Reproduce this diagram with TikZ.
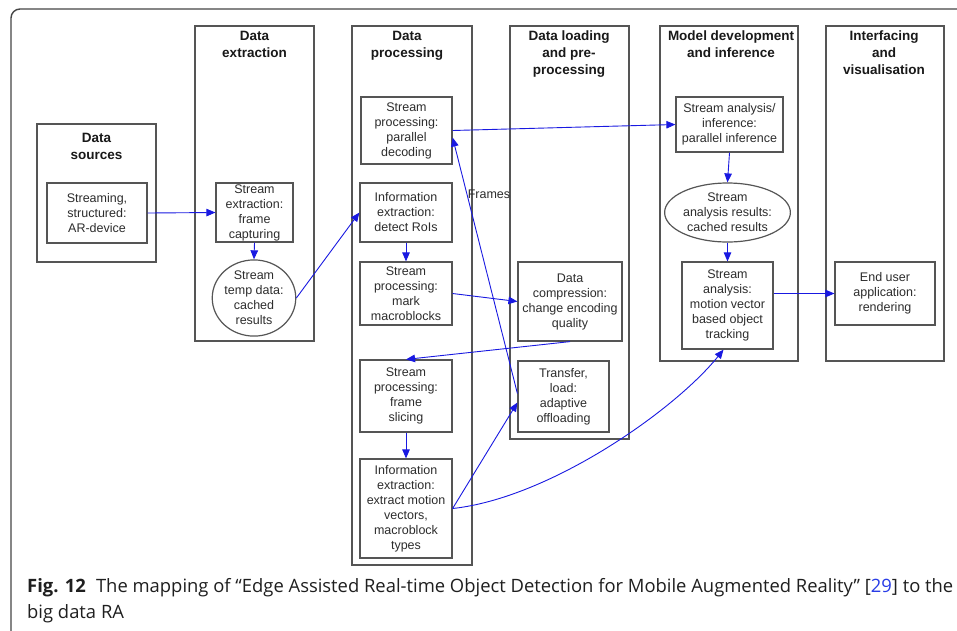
\documentclass[tikz,border=0pt]{standalone}
\usepackage{fontspec}
\setmainfont{Liberation Sans}
\newfontfamily\capfont{Open Sans}
\usetikzlibrary{arrows.meta,shapes.geometric,calc}
\definecolor{flow}{RGB}{25,25,225}
\definecolor{edgegray}{RGB}{85,85,85}
\definecolor{framegray}{RGB}{70,70,70}
\definecolor{ink}{RGB}{45,45,45}
\definecolor{citeblue}{RGB}{40,60,230}

\begin{document}
\begin{tikzpicture}[x=1pt,y=-1pt,
  lane/.style={draw=edgegray,line width=1.3pt,inner sep=0pt},
  box/.style={draw=edgegray,line width=1.2pt,inner sep=0pt,align=center,text=ink,
              font=\fontsize{12.5}{15}\selectfont},
  store/.style={box,ellipse},
  lanetitle/.style={align=center,font=\bfseries\fontsize{13.5}{16.7}\selectfont,
              text=black!90,inner sep=0pt,anchor=north},
  flowarrow/.style={draw=flow,line width=0.9pt,-{Triangle[length=9pt,width=7.5pt]}},
  caption/.style={anchor=base west,inner sep=0pt,text=black!88,
              font=\capfont\fontsize{18.4}{22}\selectfont},
]
\useasboundingbox (0,0) rectangle (957,630);
\fill[white] (0,0) rectangle (957,630);
% outer figure frame
\draw[line width=1.4pt,draw=framegray,rounded corners=9pt] (11,9) rectangle (980,660);

% ---------- lanes ----------
\node[lane,minimum width=119pt,minimum height=138pt] (srcLane)   at (96.5,193)   {};
\node[lane,minimum width=119pt,minimum height=315pt] (extLane)   at (254.5,183.5) {};
\node[lane,minimum width=120pt,minimum height=539pt] (procLane)  at (412,295.5)  {};
\node[lane,minimum width=119pt,minimum height=413pt] (loadLane)  at (569.5,232.5) {};
\node[lane,minimum width=138pt,minimum height=335pt] (modelLane) at (729,193.5)  {};
\node[lane,minimum width=118pt,minimum height=335pt] (uiLane)    at (885,193.5)  {};

\node[lanetitle] (srcTitle)   at (96.5,133) {Data\\sources};
\node[lanetitle] (extTitle)   at (254.5,31) {Data\\extraction};
\node[lanetitle] (procTitle)  at (407,31)   {Data\\processing};
\node[lanetitle] (loadTitle)  at (569,31)   {Data loading\\and pre-\\processing};
\node[lanetitle] (modelTitle) at (731,31)   {Model development\\and inference};
\node[lanetitle] (uiTitle)    at (884,31)   {Interfacing\\and\\visualisation};

% ---------- steps ----------
\node[box,minimum width=100pt,minimum height=60pt] (src) at (97,213)
  {Streaming,\\structured:\\AR-device};
\node[box,minimum width=77pt,minimum height=59pt] (extr) at (254.5,212.5)
  {Stream\\extraction:\\frame\\capturing};
\node[store,minimum width=81pt,minimum height=70pt] (tmp) at (254,298)
  {Stream\\temp data:\\cached\\results};

\node[box,minimum width=91pt,minimum height=67pt] (decode) at (406.5,130.5)
  {Stream\\processing:\\parallel\\decoding};
\node[box,minimum width=92pt,minimum height=59pt] (rois) at (406,212.5)
  {Information\\extraction:\\detect RoIs};
\node[box,minimum width=92pt,minimum height=63pt] (mark) at (406,293.5)
  {Stream\\processing:\\mark\\macroblocks};
\node[box,minimum width=92pt,minimum height=72pt] (slice) at (406,396)
  {Stream\\processing:\\frame\\slicing};
\node[box,minimum width=92pt,minimum height=99pt] (motion) at (406,508.5)
  {Information\\extraction:\\extract motion\\vectors,\\macroblock\\types};

\node[box,minimum width=104pt,minimum height=79pt] (compress) at (570,301.5)
  {Data\\compression:\\change encoding\\quality};
\node[box,minimum width=91pt,minimum height=71pt] (offload) at (563.5,396.5)
  {Transfer,\\load:\\adaptive\\offloading};

\node[box,minimum width=107pt,minimum height=55pt] (infer) at (729.5,124.5)
  {Stream analysis/\\inference:\\parallel inference};
\node[store,minimum width=119pt,minimum height=59pt] (cache) at (727.5,212.5)
  {Stream\\analysis results:\\cached results};
\node[box,minimum width=91pt,minimum height=87pt] (track) at (727.5,305.5)
  {Stream\\analysis:\\motion vector\\based object\\tracking};

\node[box,minimum width=100pt,minimum height=63pt] (render) at (885,293.5)
  {End user\\application:\\rendering};

% ---------- flows ----------
\draw[flowarrow] (src.east) -- (extr.west);
\draw[flowarrow] (extr.south) -- (tmp.north);
\draw[flowarrow] (tmp.east) -- (rois.west);
\draw[flowarrow] (rois.south) -- (mark.north);
\draw[flowarrow] (decode.east) -- (infer.west);
\draw[flowarrow] ($(offload.west)+(0,-3)$) -- ($(decode.east)+(0,7)$)
  node[pos=0.78,anchor=west,inner sep=0.5pt,text=ink,font=\fontsize{12.5}{15}\selectfont] (framesLbl) {Frames};
\draw[flowarrow] (mark.east) -- (compress.west);
\draw[flowarrow] (compress.south) -- (slice.north);
\draw[flowarrow] (slice.south) -- (motion.north);
\draw[flowarrow] (motion.east) -- ($(offload.west)+(0,6)$);
\draw[flowarrow] (motion.east) .. controls (550,498) and (675,410) .. ($(track.south)+(-4,0)$);
\draw[flowarrow] (infer.south) -- (cache.north);
\draw[flowarrow] (cache.south) -- (track.north);
\draw[flowarrow] (track.east |- render.west) -- (render.west);

% ---------- caption ----------
\node[caption] (capA) at (27,592)
  {{\bfseries Fig. 12}\hspace{0.55em}The mapping of “Edge Assisted Real-time Object Detection for Mobile Augmented Reality” [\textcolor{citeblue}{29}] to the};
\node[caption] (capB) at (27,618) {big data RA};
\end{tikzpicture}
\end{document}
